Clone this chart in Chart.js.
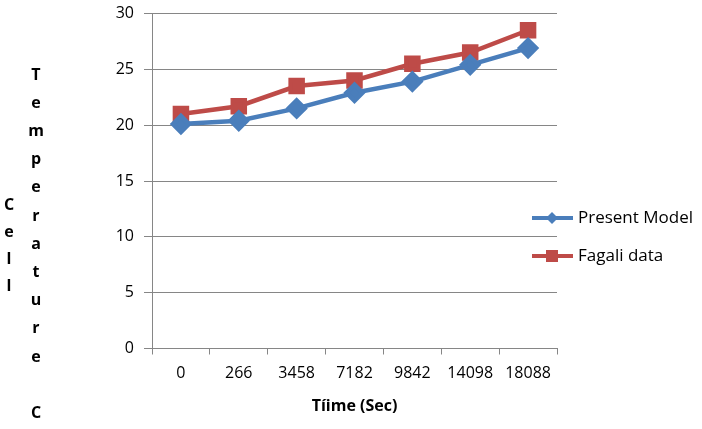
<!DOCTYPE html>
<html>
<head>
<meta charset="utf-8">
<script src="https://cdn.jsdelivr.net/npm/chart.js@4.4.0/dist/chart.umd.min.js"></script>
<style>
  html, body { margin: 0; padding: 0; background: #fff; }
  #wrap { width: 702px; height: 429px; }
</style>
</head>
<body>
<div id="wrap"><canvas id="chart" width="702" height="429"></canvas></div>
<script>
const timeLabels = ['0', '266', '3458', '7182', '9842', '14098', '18088'];
const presentModel = [20.1, 20.4, 21.5, 22.9, 23.9, 25.4, 26.9];
const fagaliData = [21.0, 21.7, 23.5, 24.0, 25.5, 26.5, 28.5];
const yTicks = [0, 5, 10, 15, 20, 25, 30];

const FONT = "'Open Sans', 'Noto Sans', sans-serif";
const BLUE = '#4A7EBB';
const RED = '#BE4B48';

// draws the odd wrapped axis titles and the legend on the right
const decorations = {
  id: 'decorations',
  afterDraw(chart) {
    const ctx = chart.ctx;
    ctx.save();
    ctx.fillStyle = '#000';
    ctx.textAlign = 'center';
    ctx.textBaseline = 'middle';
    ctx.font = 'bold 16px ' + FONT;

    // x title
    const xs = chart.scales.x;
    ctx.fillText('Tíime (Sec)', (xs.left + xs.right) / 2, 406);

    // y title, one letter per line
    'Cell'.split('').forEach((ch, i) => ctx.fillText(ch, 9, 205 + i * 27));
    const col2 = 'Temperature C'.split('');
    col2.forEach((ch, i) => { if (ch !== ' ') ctx.fillText(ch, 36, 75 + i * 28.2); });

    // legend
    const items = chart.data.datasets;
    items.forEach((ds, i) => {
      const y = 218 + i * 38;
      ctx.strokeStyle = ds.borderColor;
      ctx.lineWidth = 4;
      ctx.beginPath();
      ctx.moveTo(532, y);
      ctx.lineTo(573, y);
      ctx.stroke();
      ctx.fillStyle = ds.backgroundColor;
      if (ds.pointStyle === 'rectRot') {
        ctx.beginPath();
        ctx.moveTo(552, y - 6); ctx.lineTo(558, y); ctx.lineTo(552, y + 6); ctx.lineTo(546, y);
        ctx.closePath(); ctx.fill();
      } else {
        ctx.fillRect(546, y - 6, 12, 12);
      }
      ctx.fillStyle = '#000';
      ctx.textAlign = 'left';
      ctx.font = '17px ' + FONT;
      ctx.fillText(ds.label, 578, y);
    });
    ctx.restore();
  }
};

new Chart(document.getElementById('chart'), {
  type: 'line',
  data: {
    labels: timeLabels,
    datasets: [
      {
        label: 'Present Model',
        data: presentModel,
        borderColor: BLUE,
        backgroundColor: BLUE,
        borderWidth: 4.5,
        pointStyle: 'rectRot',
        pointRadius: 8,
        pointHoverRadius: 8,
        tension: 0
      },
      {
        label: 'Fagali data',
        data: fagaliData,
        borderColor: RED,
        backgroundColor: RED,
        borderWidth: 4.5,
        pointStyle: 'rect',
        pointRadius: 8.5,
        pointHoverRadius: 8.5,
        tension: 0
      }
    ]
  },
  options: {
    responsive: false,
    animation: false,
    layout: { padding: { left: 0, right: 145, top: 13.5, bottom: 0 } },
    plugins: {
      legend: { display: false },
      tooltip: { enabled: false }
    },
    scales: {
      x: {
        offset: true,
        grid: {
          drawOnChartArea: false,
          drawTicks: true,
          tickLength: 6,
          color: '#868686',
          offset: true
        },
        border: { color: '#868686', width: 1 },
        ticks: {
          color: '#000',
          font: { family: FONT, size: 16 },
          padding: 9,
          maxRotation: 0,
          autoSkip: false
        },
        afterFit(scale) { scale.height = 80.5; }
      },
      y: {
        min: 0,
        max: 30,
        afterBuildTicks(scale) { scale.ticks = yTicks.map(v => ({ value: v })); },
        grid: { color: '#868686', tickLength: 8, lineWidth: 1 },
        border: { color: '#868686', width: 1 },
        ticks: {
          color: '#000',
          font: { family: FONT, size: 16 },
          padding: 10
        },
        afterFit(scale) {
          scale.width = 152;
          scale.paddingTop = 0;
          scale.paddingBottom = 0;
        }
      }
    }
  },
  plugins: [decorations]
});
</script>
</body>
</html>
